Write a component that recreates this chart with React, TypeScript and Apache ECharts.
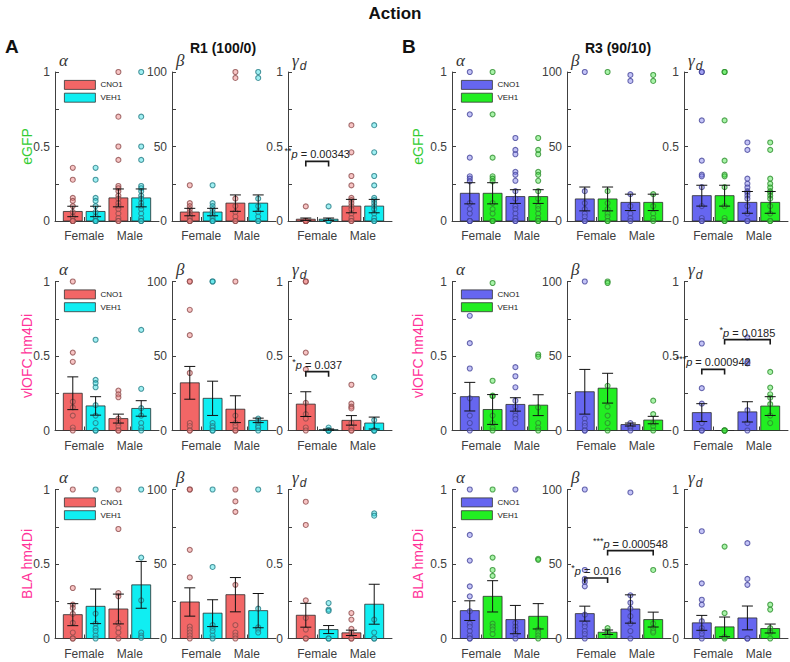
import React, { useEffect, useRef } from "react";
import * as echarts from "echarts";

// ---------- text ----------
const TITLE = "Action";
const PANEL_LETTERS = ["A", "B"];
const SIDE_TITLES = ["R1 (100/0)", "R3 (90/10)"];
const ROW_NAMES = ["eGFP", "vlOFC hm4Di", "BLA hm4Di"];
const ROW_COLORS = ["#33cc33", "#ff3399", "#ff3399"];
const PARAM_NAMES = ["α", "β", "γ"];
const PARAM_SUB = ["", "", "d"];
const PARAM_MAX = [1, 100, 1];
const SEXES = ["Female", "Male"];
const CONDITIONS = ["CNO1", "VEH1"];
// bar order in each panel: Female CNO1, Female VEH1, Male CNO1, Male VEH1

// ---------- row 1: eGFP ----------
const mean_eGFP_R1 = [[0.064, 0.064, 0.155, 0.155], [6, 6, 12, 12], [0.012, 0.012, 0.1, 0.1]];
const sem_eGFP_R1 = [[0.035, 0.035, 0.06, 0.06], [2.5, 2.5, 5.5, 5.5], [0.008, 0.008, 0.045, 0.045]];
const pts_eGFP_R1 = [
  [
    [0.357, 0.277, 0.155, 0.135, 0.1, 0.06, 0.03, 0, 0, 0, 0],
    [0.357, 0.277, 0.155, 0.135, 0.1, 0.06, 0.03, 0, 0, 0, 0],
    [1, 0.7, 0.5, 0.41, 0.235, 0.22, 0.2, 0.17, 0.15, 0.12, 0.1, 0.08, 0.05, 0.02, 0, 0],
    [1, 0.7, 0.5, 0.41, 0.235, 0.22, 0.2, 0.17, 0.15, 0.12, 0.1, 0.08, 0.05, 0.02, 0, 0],
  ],
  [
    [24, 12, 10, 8, 6, 4, 2, 0, 0, 0],
    [24, 12, 10, 8, 6, 4, 2, 0, 0, 0],
    [100, 96, 15, 10, 6, 3, 0, 0],
    [100, 96, 15, 10, 6, 3, 0, 0],
  ],
  [
    [0.098, 0, 0, 0, 0, 0, 0, 0],
    [0.098, 0, 0, 0, 0, 0, 0, 0],
    [0.643, 0.461, 0.302, 0.239, 0.155, 0.14, 0.12, 0.1, 0.08, 0.05, 0.02, 0, 0],
    [0.643, 0.461, 0.302, 0.239, 0.155, 0.14, 0.12, 0.1, 0.08, 0.05, 0.02, 0, 0],
  ],
];
const mean_eGFP_R3 = [[0.186, 0.186, 0.164, 0.164], [14.8, 14.8, 12.5, 12.5], [0.17, 0.17, 0.125, 0.125]];
const sem_eGFP_R3 = [[0.071, 0.071, 0.046, 0.046], [8, 8, 5.5, 5.5], [0.07, 0.07, 0.073, 0.073]];
const pts_eGFP_R3 = [
  [
    [1, 0.716, 0.425, 0.3, 0.284, 0.266, 0.12, 0.08, 0.05, 0, 0, 0],
    [1, 0.716, 0.425, 0.3, 0.284, 0.266, 0.12, 0.08, 0.05, 0, 0, 0],
    [0.557, 0.477, 0.448, 0.33, 0.31, 0.27, 0.2, 0.15, 0.1, 0.08, 0.05, 0.02, 0, 0],
    [0.557, 0.477, 0.448, 0.33, 0.31, 0.27, 0.2, 0.15, 0.1, 0.08, 0.05, 0.02, 0, 0],
  ],
  [
    [100, 20, 12, 8, 5, 3, 0, 0],
    [100, 20, 12, 8, 5, 3, 0, 0],
    [98, 94, 18, 10, 5, 2, 0],
    [98, 94, 18, 10, 5, 2, 0],
  ],
  [
    [1, 1, 0.675, 0.405, 0.311, 0.3, 0.227, 0.1, 0.02, 0, 0],
    [1, 1, 0.675, 0.405, 0.311, 0.3, 0.227, 0.1, 0.02, 0, 0],
    [0.527, 0.477, 0.284, 0.25, 0.225, 0.2, 0.19, 0.17, 0.15, 0.1, 0.05, 0, 0],
    [0.527, 0.477, 0.284, 0.25, 0.225, 0.2, 0.19, 0.17, 0.15, 0.1, 0.05, 0, 0],
  ],
];

// ---------- row 2: vlOFC hm4Di ----------
const mean_vlOFC_R1 = [[0.25, 0.165, 0.08, 0.148], [32, 21.6, 14.3, 6.8], [0.177, 0.006, 0.068, 0.05]];
const sem_vlOFC_R1 = [[0.11, 0.062, 0.03, 0.052], [11, 11.5, 9, 1.5], [0.083, 0.004, 0.032, 0.04]];
const pts_vlOFC_R1 = [
  [
    [1, 0.523, 0.461, 0.193, 0.155, 0.1, 0.02, 0],
    [0.609, 0.34, 0.318, 0.29, 0.17, 0.1, 0.05, 0, 0],
    [0.268, 0.243, 0.223, 0.08, 0.05, 0.03, 0, 0],
    [0.675, 0.28, 0.15, 0.1, 0.05, 0.02, 0],
  ],
  [
    [100, 100, 81, 64, 38.6, 5, 3, 0, 0],
    [100, 100, 5, 3, 2, 0, 0],
    [100, 10, 5, 3, 0, 0],
    [8, 6, 5, 3, 2, 0],
  ],
  [
    [1, 1, 0.523, 0.41, 0.186, 0.11, 0.08, 0.02, 0],
    [0.02, 0, 0, 0, 0],
    [0.307, 0.18, 0.16, 0.148, 0.05, 0.02, 0, 0],
    [0.36, 0.07, 0, 0, 0],
  ],
];
const mean_vlOFC_R3 = [[0.227, 0.141, 0.175, 0.17], [26, 28.4, 4, 7], [0.12, 0, 0.125, 0.164]];
const sem_vlOFC_R3 = [[0.096, 0.1, 0.045, 0.07], [15, 10, 1, 2.5], [0.06, 0, 0.068, 0.063]];
const pts_vlOFC_R3 = [
  [
    [0.77, 0.586, 0.416, 0.216, 0.1, 0.05, 0],
    [0.99, 0.334, 0.234, 0.23, 0.1, 0.05, 0.02, 0],
    [0.425, 0.364, 0.29, 0.2, 0.16, 0.13, 0.1, 0.08, 0.05],
    [0.51, 0.495, 0.155, 0.05, 0.02, 0],
  ],
  [
    [100, 8, 5, 3, 0, 0],
    [100, 99, 30, 16, 10, 5, 0],
    [5, 3, 2, 0],
    [20, 11, 5, 3, 0],
  ],
  [
    [0.584, 0.284, 0.18, 0.05, 0, 0],
    [0, 0, 0, 0],
    [0.625, 0.46, 0.45, 0.136, 0.05, 0],
    [0.393, 0.288, 0.243, 0.22, 0.177, 0.1, 0.05],
  ],
];

// ---------- row 3: BLA hm4Di ----------
const mean_BLA_R1 = [[0.16, 0.216, 0.198, 0.36], [24.5, 17, 29.4, 18.7], [0.156, 0.06, 0.038, 0.23]];
const sem_BLA_R1 = [[0.074, 0.116, 0.1, 0.157], [9.5, 9, 11.5, 11.5], [0.08, 0.027, 0.018, 0.134]];
const pts_BLA_R1 = [
  [
    [1, 0.339, 0.227, 0.205, 0.165, 0.105, 0.04, 0, 0],
    [1, 0.167, 0.1, 0.07, 0.05, 0.02, 0],
    [1, 0.735, 0.305, 0.283, 0.105, 0.07, 0.04, 0],
    [1, 0.543, 0.256, 0.04, 0.02, 0.005],
  ],
  [
    [100, 100, 59.5, 41, 8, 6, 4, 2, 0],
    [100, 48, 9, 7, 5, 2, 0],
    [100, 92, 85, 36, 9, 4, 2, 0],
    [100, 20, 7.5, 6, 4],
  ],
  [
    [0.918, 0.762, 0.256, 0.138, 0.06, 0, 0],
    [0.238, 0.194, 0.185, 0, 0],
    [0.171, 0.127, 0.065, 0.04, 0, 0],
    [0.84, 0.824, 0.127, 0.04, 0, 0],
  ],
];
const mean_BLA_R3 = [[0.187, 0.283, 0.127, 0.149], [16.7, 4.2, 19.8, 12.7], [0.105, 0.078, 0.138, 0.067]];
const sem_BLA_R3 = [[0.066, 0.105, 0.095, 0.085], [5, 1.5, 9.5, 5], [0.05, 0.066, 0.08, 0.03]];
const pts_BLA_R3 = [
  [
    [1, 0.695, 0.523, 0.35, 0.283, 0.183, 0.1, 0.08, 0.05, 0.02, 0, 0],
    [1, 0.543, 0.46, 0.42, 0.1, 0.08, 0.06, 0.03],
    [1, 0.105, 0.08, 0.06, 0.03, 0],
    [0.535, 0.528, 0.06, 0.04, 0.02, 0],
  ],
  [
    [100, 46, 40, 38, 35, 16, 10, 8, 5, 3, 0],
    [7, 5, 4, 3, 2],
    [98, 29, 24, 20, 15, 10, 5, 0],
    [46, 10, 7, 5, 4],
  ],
  [
    [0.72, 0.37, 0.26, 0.227, 0.116, 0.07, 0.05, 0.03, 0],
    [0.617, 0.17, 0.01, 0],
    [0.64, 0.4, 0.36, 0, 0],
    [0.227, 0.194, 0.07, 0.05, 0.04, 0],
  ],
];

// ---------- significance annotations ----------
const SIG_ROW = [0, 1, 1, 1, 2, 2];
const SIG_COL = [2, 2, 5, 5, 4, 4];
const SIG_FROM = [0, 0, 0, 1, 0, 1];
const SIG_TO = [1, 1, 1, 3, 1, 3];
const SIG_Y = [0.4, 0.395, 0.41, 0.61, 40.6, 59];
const SIG_STARS = ["**", "*", "***", "*", "*", "***"];
const SIG_P = ["0.00343", "0.037", "0.000942", "0.0185", "0.016", "0.000548"];

// ---------- layout & style ----------
const AXIS_X = [55, 172, 288, 452, 567, 684];
const ROW_TOP = [72, 281.5, 489.5];
const PANEL_W = 104;
const PANEL_H = 149;
const BAR_POS = [1, 2, 3, 4];
const SEX_POS = [1.5, 3.5];
const X_MIN = 0.22;
const X_MAX = 4.78;
const HALF_BAR = 0.415;
const ROW_LABEL_X = [27, 417.5];

const BAR_COLORS = [["#f26666", "#10eef2"], ["#6666f0", "#22ee22"]];
const DOT_FILL = [
  ["rgba(236,120,120,0.55)", "rgba(40,220,228,0.55)"],
  ["rgba(120,120,236,0.55)", "rgba(60,228,60,0.55)"],
];
const DOT_EDGE = [["#8e4c4c", "#237d86"], ["#43439a", "#2c8f2c"]];
const AXIS_COLOR = "#404040";
const SANS = "'Liberation Sans', Arial, Helvetica, sans-serif";
const SERIF = "'Liberation Serif', 'Times New Roman', serif";

const MEANS = [[mean_eGFP_R1, mean_eGFP_R3], [mean_vlOFC_R1, mean_vlOFC_R3], [mean_BLA_R1, mean_BLA_R3]];
const SEMS = [[sem_eGFP_R1, sem_eGFP_R3], [sem_vlOFC_R1, sem_vlOFC_R3], [sem_BLA_R1, sem_BLA_R3]];
const POINTS = [[pts_eGFP_R1, pts_eGFP_R3], [pts_vlOFC_R1, pts_vlOFC_R3], [pts_BLA_R1, pts_BLA_R3]];

function buildOption() {
  const grid: any[] = [];
  const xAxis: any[] = [];
  const yAxis: any[] = [];
  const series: any[] = [];
  const legend: any[] = [];
  const graphic: any[] = [];

  for (let r = 0; r < 3; r++) {
    for (let c = 0; c < 6; c++) {
      const idx = r * 6 + c;
      const side = c < 3 ? 0 : 1;
      const p = c % 3;
      const ymax = PARAM_MAX[p];
      const means = MEANS[r][side][p];
      const sems = SEMS[r][side][p];
      const pts = POINTS[r][side][p];

      grid.push({ left: AXIS_X[c], top: ROW_TOP[r], width: PANEL_W, height: PANEL_H });
      xAxis.push({
        gridIndex: idx,
        type: "value",
        min: X_MIN,
        max: X_MAX,
        axisLine: { show: true, onZero: false, lineStyle: { color: AXIS_COLOR, width: 1 } },
        axisTick: { show: true, inside: true, length: 4, customValues: SEX_POS, lineStyle: { color: AXIS_COLOR } },
        axisLabel: {
          show: true,
          customValues: SEX_POS,
          formatter: (v: number) => (v < 2.5 ? SEXES[0] : SEXES[1]),
          fontSize: 12,
          fontFamily: SANS,
          color: AXIS_COLOR,
          margin: 9,
        },
        splitLine: { show: false },
      });
      const nameText = PARAM_SUB[p] ? `{g|${PARAM_NAMES[p]}}{d|${PARAM_SUB[p]}}` : `{g|${PARAM_NAMES[p]}}`;
      yAxis.push({
        gridIndex: idx,
        type: "value",
        min: 0,
        max: ymax,
        interval: ymax / 4,
        name: nameText,
        nameLocation: "end",
        nameGap: 2,
        nameTextStyle: {
          align: "left",
          verticalAlign: "bottom",
          padding: [0, 0, 0, 4],
          rich: {
            g: { fontFamily: SERIF, fontStyle: "italic", fontSize: 17, color: "#333", lineHeight: 17, padding: [0, 0, 3, 0] },
            d: { fontFamily: SANS, fontStyle: "italic", fontSize: 12, color: "#333", lineHeight: 12, padding: [8, 0, 0, 1] },
          },
        },
        axisLine: { show: true, lineStyle: { color: AXIS_COLOR, width: 1 } },
        axisTick: { show: true, inside: true, length: 4, lineStyle: { color: AXIS_COLOR } },
        axisLabel: {
          show: true,
          showMinLabel: true,
          showMaxLabel: true,
          formatter: (v: number) => (Math.abs(v / (ymax / 2) - Math.round(v / (ymax / 2))) < 1e-6 ? String(v) : ""),
          fontSize: 12,
          fontFamily: SANS,
          color: AXIS_COLOR,
          margin: 5,
        },
        splitLine: { show: false },
      });

      for (let k = 0; k < 2; k++) {
        const color = BAR_COLORS[side][k];
        // bars
        series.push({
          type: "custom",
          name: CONDITIONS[k],
          xAxisIndex: idx,
          yAxisIndex: idx,
          z: 1,
          itemStyle: { color },
          encode: { x: 0, y: 1 },
          data: [0, 1].map((s) => [BAR_POS[s * 2 + k], means[s * 2 + k]]),
          renderItem: (params: any, api: any) => {
            const x = api.value(0);
            const m = api.value(1);
            const tl = api.coord([x - HALF_BAR, m]);
            const br = api.coord([x + HALF_BAR, 0]);
            return {
              type: "rect",
              shape: { x: tl[0], y: tl[1], width: br[0] - tl[0], height: br[1] - tl[1] },
              style: { fill: color, stroke: "#2b2b2b", lineWidth: 0.8 },
            };
          },
        });
        // individual points
        const dots: number[][] = [];
        [0, 1].forEach((s) => {
          const g = s * 2 + k;
          pts[g].forEach((v: number) => dots.push([BAR_POS[g], v]));
        });
        series.push({
          type: "scatter",
          name: CONDITIONS[k],
          xAxisIndex: idx,
          yAxisIndex: idx,
          z: 2,
          symbol: "circle",
          symbolSize: 5,
          itemStyle: { color: DOT_FILL[side][k], borderColor: DOT_EDGE[side][k], borderWidth: 1.1 },
          data: dots,
        });
      }
      // error bars
      series.push({
        type: "custom",
        name: "SEM",
        xAxisIndex: idx,
        yAxisIndex: idx,
        z: 3,
        encode: { x: 0, y: 1 },
        data: BAR_POS.map((x, g) => [x, means[g], sems[g]]),
        renderItem: (params: any, api: any) => {
          const x = api.value(0);
          const m = api.value(1);
          const s = api.value(2);
          if (!(s > 0)) return { type: "group", children: [] };
          const top = api.coord([x, m + s]);
          const bot = api.coord([x, Math.max(m - s, 0)]);
          const cw = 5.5;
          const st = { stroke: "#111", lineWidth: 1 };
          return {
            type: "group",
            children: [
              { type: "line", shape: { x1: top[0], y1: top[1], x2: bot[0], y2: bot[1] }, style: st },
              { type: "line", shape: { x1: top[0] - cw, y1: top[1], x2: top[0] + cw, y2: top[1] }, style: st },
              { type: "line", shape: { x1: bot[0] - cw, y1: bot[1], x2: bot[0] + cw, y2: bot[1] }, style: st },
            ],
          };
        },
      });

      // significance brackets
      const sigIdx: number[] = [];
      SIG_ROW.forEach((sr, i) => {
        if (sr === r && SIG_COL[i] === c) sigIdx.push(i);
      });
      if (sigIdx.length) {
        series.push({
          type: "custom",
          name: "significance",
          xAxisIndex: idx,
          yAxisIndex: idx,
          z: 4,
          encode: { x: 0, y: 2 },
          data: sigIdx.map((i) => [BAR_POS[SIG_FROM[i]], BAR_POS[SIG_TO[i]], SIG_Y[i]]),
          renderItem: (params: any, api: any) => {
            const i = sigIdx[params.dataIndex];
            const a = api.coord([api.value(0), api.value(2)]);
            const b = api.coord([api.value(1), api.value(2)]);
            return {
              type: "group",
              children: [
                {
                  type: "polyline",
                  shape: { points: [[a[0], a[1] + 5], [a[0], a[1]], [b[0], b[1]], [b[0], b[1] + 5]] },
                  style: { stroke: "#1a1a1a", lineWidth: 1.6, fill: null },
                },
                {
                  type: "text",
                  x: (a[0] + b[0]) / 2,
                  y: a[1] - 7,
                  style: {
                    text: `{s|${SIG_STARS[i]}}{p|p}{t| = ${SIG_P[i]}}`,
                    align: "center",
                    verticalAlign: "middle",
                    fill: "#222",
                    fontFamily: SANS,
                    fontSize: 11,
                    rich: {
                      s: { fontSize: 9, fontFamily: SANS, fill: "#222", lineHeight: 9, padding: [0, 0, 6, 0] },
                      p: { fontSize: 11, fontFamily: SANS, fontStyle: "italic", fill: "#222", lineHeight: 15 },
                      t: { fontSize: 11, fontFamily: SANS, fill: "#222", lineHeight: 15 },
                    },
                  },
                },
              ],
            };
          },
        });
      }
    }
    // legends (in alpha panels) and row labels
    for (let side = 0; side < 2; side++) {
      legend.push({
        left: AXIS_X[side * 3] + 9,
        top: ROW_TOP[r] + 8,
        orient: "vertical",
        icon: "rect",
        itemWidth: 31,
        itemHeight: 9,
        itemGap: 3,
        padding: 0,
        selectedMode: false,
        textStyle: { fontSize: 8, fontFamily: SANS, color: "#222" },
        data: CONDITIONS.map((n, k) => ({
          name: n,
          itemStyle: { color: BAR_COLORS[side][k], borderColor: "#333", borderWidth: 0.8 },
          textStyle: { color: "#222", fontSize: 8 },
        })),
      });
      graphic.push({
        type: "text",
        x: ROW_LABEL_X[side],
        y: ROW_TOP[r] + PANEL_H / 2,
        rotation: Math.PI / 2,
        style: {
          text: ROW_NAMES[r],
          fill: ROW_COLORS[r],
          fontSize: 14,
          fontFamily: SANS,
          align: "center",
          verticalAlign: "middle",
        },
      });
    }
  }

  graphic.push({
    type: "text",
    x: 395,
    y: 13,
    style: { text: TITLE, fill: "#111", fontSize: 17, fontWeight: "bold", fontFamily: SANS, align: "center", verticalAlign: "middle" },
  });
  [0, 1].forEach((side) => {
    graphic.push({
      type: "text",
      x: side === 0 ? 5 : 402,
      y: 46,
      style: { text: PANEL_LETTERS[side], fill: "#111", fontSize: 19, fontWeight: "bold", fontFamily: SANS, align: "left", verticalAlign: "middle" },
    });
    graphic.push({
      type: "text",
      x: side === 0 ? 223 : 618,
      y: 47.5,
      style: { text: SIDE_TITLES[side], fill: "#111", fontSize: 14, fontWeight: "bold", fontFamily: SANS, align: "center", verticalAlign: "middle" },
    });
  });

  return {
    animation: false,
    backgroundColor: "#ffffff",
    textStyle: { fontFamily: SANS },
    grid,
    xAxis,
    yAxis,
    legend,
    graphic,
    series,
  };
}

export default function App() {
  const ref = useRef<HTMLDivElement>(null);
  useEffect(() => {
    if (!ref.current) return;
    const chart = echarts.init(ref.current, null, { renderer: "svg" });
    chart.setOption(buildOption() as any);
    return () => chart.dispose();
  }, []);
  return <div ref={ref} style={{ position: "absolute", left: 0, top: 0, width: 790, height: 662 }} />;
}
